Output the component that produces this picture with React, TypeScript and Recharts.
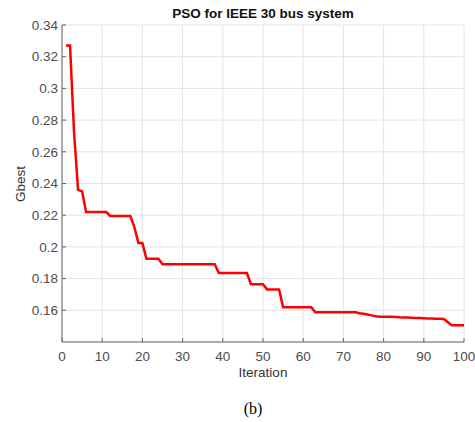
import { CartesianGrid, Line, LineChart, XAxis, YAxis } from "recharts";

const gbest = [
  0.327, 0.327, 0.272, 0.236, 0.235, 0.222, 0.222, 0.222, 0.222, 0.222,
  0.222, 0.2195, 0.2195, 0.2195, 0.2195, 0.2195, 0.2195, 0.2125, 0.2025, 0.2025,
  0.1925, 0.1925, 0.1925, 0.1925, 0.189, 0.189, 0.189, 0.189, 0.189, 0.189,
  0.189, 0.189, 0.189, 0.189, 0.189, 0.189, 0.189, 0.189, 0.1835, 0.1835,
  0.1835, 0.1835, 0.1835, 0.1835, 0.1835, 0.1835, 0.1765, 0.1765, 0.1765, 0.1765,
  0.1732, 0.1732, 0.1732, 0.1732, 0.162, 0.162, 0.162, 0.162, 0.162, 0.162,
  0.162, 0.162, 0.1588, 0.1588, 0.1588, 0.1588, 0.1588, 0.1588, 0.1588, 0.1588,
  0.1588, 0.1588, 0.1588, 0.1582, 0.1578, 0.1573, 0.1568, 0.1563, 0.156, 0.156,
  0.1559, 0.1559, 0.1558, 0.1556, 0.1555, 0.1554, 0.1553, 0.1552, 0.1551, 0.155,
  0.1549, 0.1548, 0.1547, 0.1546, 0.1545, 0.1525, 0.1505, 0.1505, 0.1505, 0.1505
];

const xTicks = [0, 10, 20, 30, 40, 50, 60, 70, 80, 90, 100];
const yTicks = [0.16, 0.18, 0.2, 0.22, 0.24, 0.26, 0.28, 0.3, 0.32, 0.34];

const data = gbest.map((g, i) => ({ iter: i + 1, gbest: g }));

const font = "Arial, 'Liberation Sans', sans-serif";
const axisColor = "#666";
const tickStyle = { fill: "#4d4d4d", fontSize: 13.5, fontFamily: font };

export default function App() {
  return (
    <div style={{ position: "absolute", left: 0, top: 0, width: 475, height: 422, background: "#fff" }}>
      <LineChart width={475} height={422} data={data} margin={{ top: 25, right: 11, bottom: 50, left: 12 }}>
        <CartesianGrid stroke="#e4e4e4" />
        <XAxis
          dataKey="iter"
          type="number"
          domain={[0, 100]}
          ticks={xTicks}
          height={30}
          tickSize={-4}
          tickMargin={13}
          stroke={axisColor}
          tick={tickStyle}
        />
        <XAxis
          xAxisId="top"
          orientation="top"
          type="number"
          domain={[0, 100]}
          ticks={xTicks}
          height={0}
          mirror
          tick={false}
          tickSize={4}
          stroke={axisColor}
        />
        <YAxis
          type="number"
          domain={[0.14, 0.34]}
          ticks={yTicks}
          width={50}
          tickSize={-4}
          tickMargin={8}
          stroke={axisColor}
          tick={tickStyle}
          tickFormatter={(v: number) => String(+v.toFixed(2))}
        />
        <YAxis
          yAxisId="right"
          orientation="right"
          type="number"
          domain={[0.14, 0.34]}
          ticks={yTicks}
          width={0}
          mirror
          tick={false}
          tickSize={4}
          stroke={axisColor}
        />
        <Line
          type="linear"
          dataKey="gbest"
          stroke="#ff0000"
          strokeWidth={2.5}
          dot={false}
          isAnimationActive={false}
        />
      </LineChart>
      <div style={{ position: "absolute", left: 62, width: 402, top: 6, textAlign: "center", fontFamily: font, fontWeight: "bold", fontSize: 13.5, color: "#111" }}>
        PSO for IEEE 30 bus system
      </div>
      <div
        style={{
          position: "absolute",
          left: 20,
          top: 184,
          transform: "translate(-50%, -50%) rotate(-90deg)",
          fontFamily: font,
          fontSize: 13.5,
          color: "#333",
          whiteSpace: "nowrap"
        }}
      >
        Gbest
      </div>
      <div style={{ position: "absolute", left: 62, width: 402, top: 365, textAlign: "center", fontFamily: font, fontSize: 13.5, color: "#333" }}>
        Iteration
      </div>
      <div style={{ position: "absolute", left: 203, width: 100, top: 400, textAlign: "center", fontFamily: "'Liberation Serif', 'Times New Roman', serif", fontSize: 16, color: "#000" }}>
        (b)
      </div>
    </div>
  );
}
